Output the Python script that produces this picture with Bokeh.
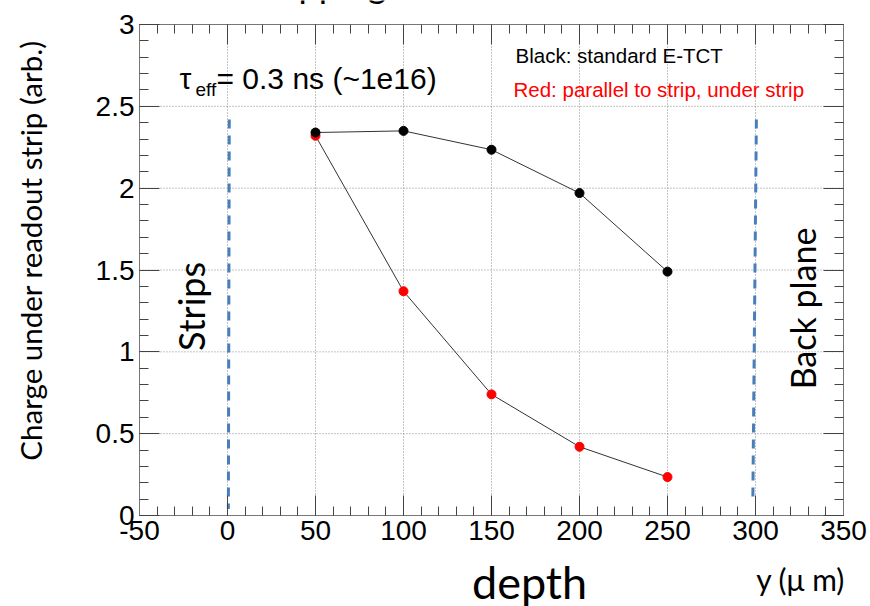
from bokeh.plotting import figure
from bokeh.models import Range1d, SingleIntervalTicker, LinearAxis, Label
from bokeh.embed import file_html
from bokeh.resources import INLINE
import math

# Measured charge vs. injection depth
depth_um = [50, 100, 150, 200, 250]
charge_standard = [2.34, 2.35, 2.235, 1.97, 1.49]     # standard E-TCT
charge_parallel = [2.32, 1.37, 0.74, 0.42, 0.235]     # parallel to strip, under strip

# Detector boundaries (dashed markers): strip side and back plane
strip_x = [1.0, 0.5]
strip_y = [2.42, 0.04]
back_x = [300.5, 298.5]
back_y = [2.42, 0.11]

x_ticks = [-50, 0, 50, 100, 150, 200, 250, 300, 350]
x_tick_labels = ["-50", "0", "50", "100", "150", "200", "250", "300", "350"]
y_ticks = [0, 0.5, 1, 1.5, 2, 2.5, 3]
y_tick_labels = ["0", "0.5", "1", "1.5", "2", "2.5", "3"]

X0, X1 = -50, 350
Y0, Y1 = 0, 3
W, H = 870, 606
FL, FR, FT, FB = 139, 843, 24, 515   # pixel edges of the ROOT-style box

ROOT_FONT = "Liberation Sans"
SLIDE_FONT = "Lato"


def px_x(px):
    return X0 + (px - FL) / (FR - FL) * (X1 - X0)


def px_y(py):
    return Y0 + (FB - py) / (FB - FT) * (Y1 - Y0)


# The plotting area spans the whole canvas so that slide texts around the
# box can be placed freely; the box itself is built from pinned axes.
p = figure(width=W, height=H,
           x_range=Range1d(px_x(0), px_x(W)), y_range=Range1d(px_y(H), px_y(0)),
           output_backend="svg", toolbar_location=None,
           x_axis_location=None, y_axis_location=None,
           min_border_left=0, min_border_right=0, min_border_top=0, min_border_bottom=0,
           background_fill_color="white", border_fill_color="white")
p.outline_line_color = None
p.grid.visible = False


def box_axis(side, loc, bounds, interval, tick_texts):
    ax = LinearAxis(ticker=SingleIntervalTicker(interval=interval, num_minor_ticks=5),
                    fixed_location=loc, bounds=bounds)
    ax.axis_line_color = "#777777"
    ax.major_tick_line_color = "#444444"
    ax.minor_tick_line_color = "#444444"
    ax.major_tick_in = 20
    ax.major_tick_out = 0
    ax.minor_tick_in = 9
    ax.minor_tick_out = 0
    ax.major_label_text_font = ROOT_FONT
    ax.major_label_text_color = "black"
    ax.major_label_text_font_size = "28px"
    ax.major_label_standoff = 5
    ax.major_label_overrides = tick_texts
    p.add_layout(ax, side)
    return ax


box_axis("below", Y0, (X0, X1), 50, {t: s for t, s in zip(x_ticks, x_tick_labels)})
box_axis("left", X0, (Y0, Y1), 0.5, {t: s for t, s in zip(y_ticks, y_tick_labels)})
box_axis("above", Y1, (X0, X1), 50, {t: "" for t in x_ticks})
box_axis("right", X1, (Y0, Y1), 0.5, {t: "" for t in y_ticks})

# Dotted grid at the major ticks
p.segment(x0=x_ticks, y0=[Y0] * len(x_ticks), x1=x_ticks, y1=[Y1] * len(x_ticks),
          line_color="#8a8a8a", line_dash="1 2", line_width=1)
p.segment(x0=[X0] * len(y_ticks), y0=y_ticks, x1=[X1] * len(y_ticks), y1=y_ticks,
          line_color="#8a8a8a", line_dash="1 2", line_width=1)

# Boundary markers
p.line(strip_x, strip_y, line_color="#4a7ebb", line_width=3, line_dash="9 7")
p.line(back_x, back_y, line_color="#4a7ebb", line_width=3, line_dash="9 7")

# Data series
p.line(depth_um, charge_parallel, line_color="#333333", line_width=1)
p.scatter(depth_um, charge_parallel, size=9, color="red")
p.line(depth_um, charge_standard, line_color="#333333", line_width=1)
p.scatter(depth_um, charge_standard, size=9, color="black")


def add_text(px, py, text, font, size, color="black", align="left", angle=0.0):
    """Place a text by the pixel position of its vertical middle."""
    p.add_layout(Label(x=px_x(px), y=px_y(py), text=text, text_font=font,
                       text_font_size=size, text_color=color, text_align=align,
                       text_baseline="middle", angle=angle))


# Slide title, mostly above the visible area
add_text(318, -17, "Trapping", SLIDE_FONT, "36px", align="center")

add_text(179, 77.5, "τ", ROOT_FONT, "30px")
add_text(195, 88.5, "eff", ROOT_FONT, "19px")
add_text(216, 77.5, "= 0.3 ns (~1e16)", ROOT_FONT, "30px")
add_text(515, 55, "Black: standard E-TCT", ROOT_FONT, "20.5px")
add_text(513, 89, "Red: parallel to strip, under strip", ROOT_FONT, "20.5px", color="red")

add_text(190, 306, "Strips", SLIDE_FONT, "36px", align="center", angle=math.pi / 2)
add_text(802, 308, "Back plane", SLIDE_FONT, "34px", align="center", angle=math.pi / 2)

add_text(30, 250, "Charge under readout strip (arb.)", SLIDE_FONT, "29.5px",
         align="center", angle=math.pi / 2)
add_text(529, 581, "depth", SLIDE_FONT, "45px", align="center")
add_text(800, 578, "y (μ m)", SLIDE_FONT, "30px", align="center")

open("out.html", "w").write(file_html(p, INLINE))
